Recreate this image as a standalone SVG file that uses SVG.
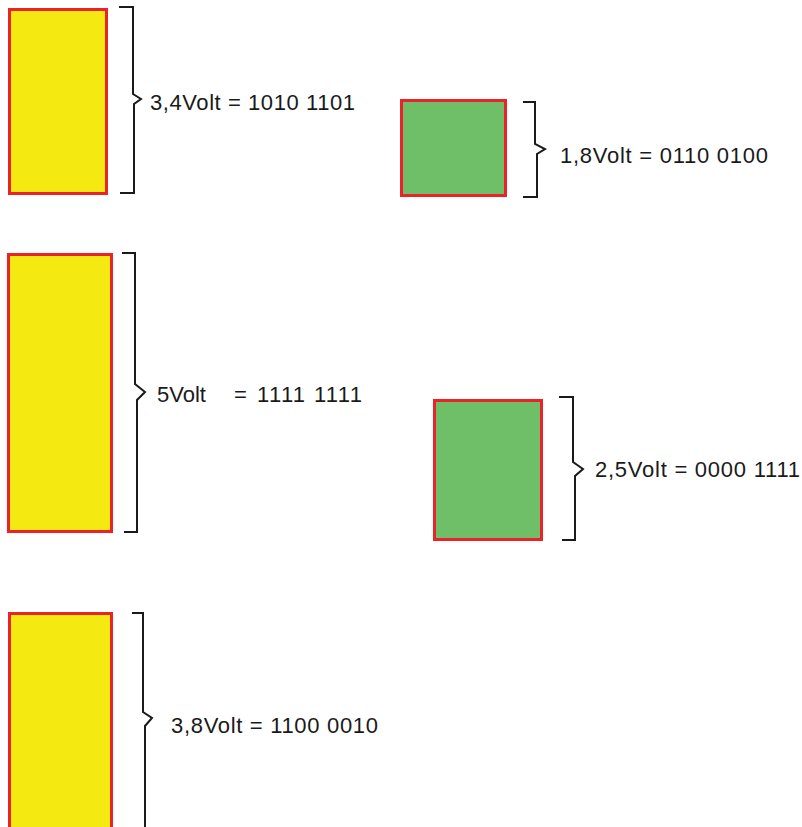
<svg xmlns="http://www.w3.org/2000/svg" width="802" height="827" viewBox="0 0 802 827">
<style>
.y{fill:#f5e912;stroke:#ec2229;stroke-width:3}
.g{fill:#6fbf69;stroke:#ec2229;stroke-width:3}
.b{fill:none;stroke:#1a1a1a;stroke-width:2;stroke-linejoin:miter}
.t{font-family:"Liberation Sans",Arial,sans-serif;font-size:22px;fill:#1a1a1a}
</style>
<rect width="802" height="827" fill="#ffffff"/>
<g id="node-34">
<rect class="y" x="9.5" y="9.5" width="97" height="184"/>
<text class="t" x="150" y="110" textLength="205" lengthAdjust="spacing">3,4Volt = 1010 1101</text>
</g>
<g id="node-18">
<rect class="g" x="401.5" y="100.5" width="104" height="95"/>
<text class="t" x="560" y="163" textLength="208" lengthAdjust="spacing">1,8Volt = 0110 0100</text>
</g>
<g id="node-50">
<rect class="y" x="8.5" y="254.5" width="103" height="277"/>
<text class="t" y="402"><tspan x="157">5Volt</tspan><tspan x="234">=</tspan><tspan x="257" textLength="105" lengthAdjust="spacing">1111 1111</tspan></text>
</g>
<g id="node-25">
<rect class="g" x="434.5" y="400.5" width="107" height="139"/>
<text class="t" x="595" y="477" textLength="205" lengthAdjust="spacing">2,5Volt = 0000 1111</text>
</g>
<g id="node-38">
<rect class="y" x="9.5" y="613.5" width="102" height="230"/>
<text class="t" x="171" y="733" textLength="207" lengthAdjust="spacing">3,8Volt = 1100 0010</text>
</g>
<g id="connectors">
<path class="b" d="M119,7 H133 V94 L141,99 L134,104 V193 H120"/>
<path class="b" d="M523,102 H535 V144 L545,149 L537,154 V197 H523"/>
<path class="b" d="M122,253 H135 V384 L145,392 L137,400 V532 H124"/>
<path class="b" d="M559,397 H573 V462 L583,469 L575,476 V540 H562"/>
<path class="b" d="M132,613 H143 V712 L152,718 L145,726 V840"/>
</g>
</svg>
